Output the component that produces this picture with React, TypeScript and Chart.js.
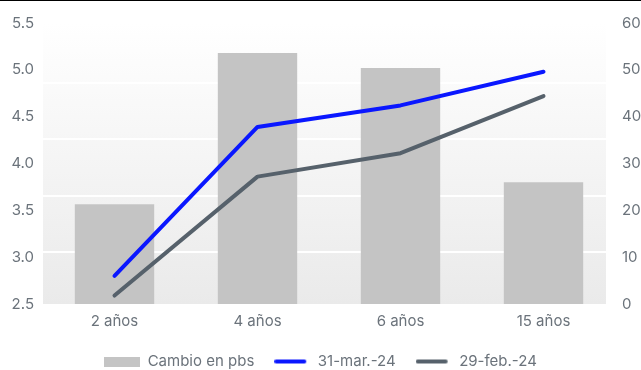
import React, { useEffect, useRef } from "react";
import { Chart, registerables } from "chart.js";

Chart.register(...registerables);

const categories = ["2 años", "4 años", "6 años", "15 años"];
const cambioPbs = [21.3, 53.6, 50.4, 26];
const mar24 = [2.8, 4.39, 4.62, 4.98];
const feb24 = [2.59, 3.86, 4.11, 4.72];
const seriesNames = ["Cambio en pbs", "31-mar.-24", "29-feb.-24"];

const TEXT = "#6b737b";
const FONT = "Inter, 'Open Sans', sans-serif";
const FS = 15;

function makeRectIcon(color: string) {
  const c = document.createElement("canvas");
  c.width = 36;
  c.height = 10;
  const ctx = c.getContext("2d")!;
  ctx.fillStyle = color;
  ctx.fillRect(0, 0, 36, 10);
  return c;
}

function makeLineIcon(color: string) {
  const c = document.createElement("canvas");
  c.width = 36;
  c.height = 10;
  const ctx = c.getContext("2d")!;
  ctx.strokeStyle = color;
  ctx.lineWidth = 4;
  ctx.lineCap = "round";
  ctx.beginPath();
  ctx.moveTo(2, 5);
  ctx.lineTo(30, 5);
  ctx.stroke();
  return c;
}

const bgPlugin = {
  id: "bgGradient",
  beforeDraw(chart: any) {
    const { ctx, chartArea } = chart;
    if (!chartArea) return;
    const g = ctx.createLinearGradient(0, chartArea.top, 0, chartArea.bottom);
    g.addColorStop(0, "#ffffff");
    g.addColorStop(1, "#eaeaea");
    ctx.save();
    ctx.fillStyle = g;
    ctx.fillRect(chartArea.left, chartArea.top, chartArea.right - 9 - chartArea.left, chartArea.bottom - chartArea.top);
    ctx.restore();
  },
};

export default function App() {
  const ref = useRef<HTMLCanvasElement | null>(null);

  useEffect(() => {
    if (!ref.current) return;
    const blue = "#0a17ff";
    const gray = "#56616b";
    const barColor = "#c4c4c4";
    const chart = new Chart(ref.current, {
      type: "bar",
      data: {
        labels: categories,
        datasets: [
          {
            type: "line",
            label: seriesNames[1],
            data: mar24,
            yAxisID: "y",
            borderColor: blue,
            backgroundColor: blue,
            borderWidth: 4,
            borderCapStyle: "round",
            borderJoinStyle: "round",
            pointRadius: 0,
            tension: 0,
            order: 1,
            pointStyle: makeLineIcon(blue),
          } as any,
          {
            type: "line",
            label: seriesNames[2],
            data: feb24,
            yAxisID: "y",
            borderColor: gray,
            backgroundColor: gray,
            borderWidth: 4,
            borderCapStyle: "round",
            borderJoinStyle: "round",
            pointRadius: 0,
            tension: 0,
            order: 2,
            pointStyle: makeLineIcon(gray),
          } as any,
          {
            type: "bar",
            label: seriesNames[0],
            data: cambioPbs,
            yAxisID: "y1",
            backgroundColor: barColor,
            borderWidth: 0,
            categoryPercentage: 1,
            barPercentage: 0.555,
            order: 3,
            pointStyle: makeRectIcon(barColor),
          } as any,
        ],
      },
      options: {
        animation: false,
        responsive: false,
        maintainAspectRatio: false,
        devicePixelRatio: 1,
        layout: { padding: { top: 23, bottom: -9, left: 0, right: 0 } },
        plugins: {
          tooltip: { enabled: false },
          legend: {
            position: "bottom",
            labels: {
              usePointStyle: true,
              pointStyleWidth: 36,
              boxHeight: 10,
              padding: 20,
              color: TEXT,
              font: { family: FONT, size: FS },
              sort: (a: any, b: any) => {
                const order = [2, 0, 1];
                return order.indexOf(a.datasetIndex) - order.indexOf(b.datasetIndex);
              },
            },
          },
        },
        scales: {
          x: {
            grid: { display: false, drawTicks: false },
            border: { display: false },
            ticks: { color: TEXT, font: { family: FONT, size: FS }, padding: 8 },
            afterFit: (s: any) => {
              s.height = 30;
            },
          },
          y: {
            position: "left",
            min: 2.5,
            max: 5.5,
            grid: { display: false, drawTicks: false },
            border: { display: false },
            ticks: {
              stepSize: 0.5,
              color: TEXT,
              padding: 9,
              font: { family: FONT, size: FS },
              callback: (v: any) => Number(v).toFixed(1),
            },
            afterFit: (s: any) => {
              s.width = 43;
            },
          },
          g: {
            position: "left",
            min: 0.08,
            max: 5.06,
            grid: {
              display: true,
              drawTicks: false,
              color: (c: any) =>
                c.tick && [1, 2, 3, 4].includes(c.tick.value) ? "#ffffff" : "rgba(0,0,0,0)",
              lineWidth: 2,
            },
            border: { display: false },
            ticks: { display: false, stepSize: 1 },
            afterFit: (s: any) => {
              s.width = 0;
            },
          },
          y1: {
            position: "right",
            min: 0,
            max: 60,
            grid: { display: false, drawTicks: false },
            border: { display: false },
            ticks: {
              stepSize: 10,
              color: TEXT,
              padding: 7,
              font: { family: FONT, size: FS },
            },
            afterFit: (s: any) => {
              s.width = 26;
            },
          },
        },
      } as any,
      plugins: [bgPlugin],
    });
    return () => chart.destroy();
  }, []);

  return (
    <div style={{ position: "fixed", left: 0, top: 0, width: 641, height: 370, background: "#ffffff", overflow: "hidden" }}>
      <canvas ref={ref} width={641} height={370} style={{ display: "block", width: 641, height: 370 }} />
      <div style={{ position: "absolute", left: 0, top: 0, width: 641, height: 1, background: "#000" }} />
    </div>
  );
}
